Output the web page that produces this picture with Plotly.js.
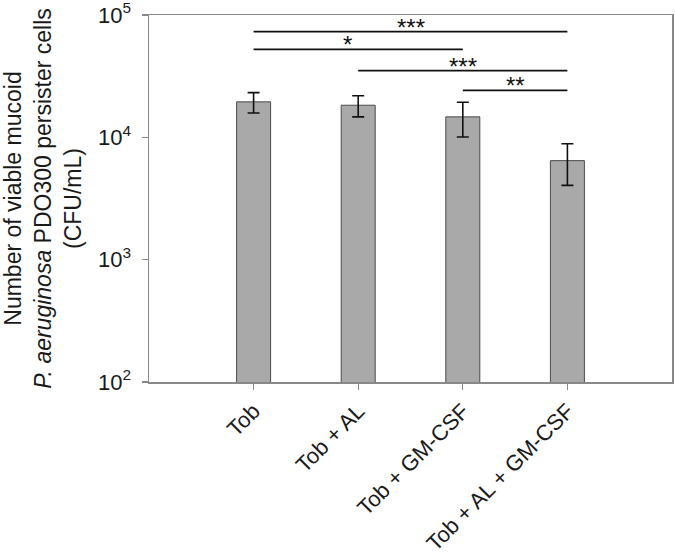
<!DOCTYPE html>
<html>
<head>
<meta charset="utf-8">
<script src="https://cdn.plot.ly/plotly-3.0.1.min.js"></script>
<style>
  html, body { margin: 0; padding: 0; background: #fff; }
  #chart { width: 675px; height: 555px; }
</style>
</head>
<body>
<div id="chart"></div>
<script>
// ---- data ----
var categories = ["Tob", "Tob + AL", "Tob + GM-CSF", "Tob + AL + GM-CSF"];
var cfuValues = [19500, 18300, 14700, 6450];
var cfuErrors = [3700, 3600, 4650, 2400];
var yTickValues = [100, 1000, 10000, 100000];
var yTickLabels = ["10<sup>2</sup>", "10<sup>3</sup>", "10<sup>4</sup>", "10<sup>5</sup>"];
// significance comparisons: category index from/to, label
var compFrom = [0, 0, 1, 2];
var compTo = [3, 2, 3, 3];
var compLabels = ["***", "*", "***", "**"];

// ---- layout helpers (positions / styles) ----
var bracketY = [0.9545, 0.9065, 0.8482, 0.7948];
var labelXOffset = [0, -0.1, 0, 0];
var FONT = "Liberation Sans, Arial, Helvetica, sans-serif";

var trace = {
  type: "bar",
  x: categories,
  y: cfuValues,
  width: 0.325,
  marker: { color: "#a9a9a9", line: { color: "#4a4a4a", width: 1 } },
  error_y: { type: "data", array: cfuErrors, visible: true, color: "#111", thickness: 1.6, width: 6 },
  hoverinfo: "x+y"
};

var shapes = [];
var annotations = [];
for (var i = 0; i < compFrom.length; i++) {
  shapes.push({
    type: "line", xref: "x", yref: "paper",
    x0: compFrom[i], x1: compTo[i], y0: bracketY[i], y1: bracketY[i],
    line: { color: "#111", width: 1.8 }
  });
  annotations.push({
    xref: "x", yref: "paper",
    x: (compFrom[i] + compTo[i]) / 2 + labelXOffset[i], y: bracketY[i],
    xanchor: "center", yanchor: "bottom", yshift: -11,
    text: compLabels[i], showarrow: false,
    font: { family: FONT, size: 24, color: "#111" }
  });
}

var layout = {
  width: 675, height: 555,
  margin: { l: 149, r: 3, t: 15, b: 173 },
  paper_bgcolor: "#fff", plot_bgcolor: "#fff",
  showlegend: false,
  font: { family: FONT, color: "#1a1a1a" },
  bargap: 0.675,
  xaxis: {
    type: "category",
    range: [-1, 4],
    tickangle: -45,
    tickfont: { family: FONT, size: 22, color: "#1a1a1a" },
    ticks: "outside", ticklen: 6, tickcolor: "#888", tickwidth: 1.2,
    showline: true, linecolor: "#888", linewidth: 1.5, mirror: true,
    showgrid: false, zeroline: false
  },
  yaxis: {
    type: "log",
    range: [2, 5],
    tickvals: yTickValues,
    ticktext: yTickLabels,
    ticklabeloverflow: "allow",
    tickfont: { family: FONT, size: 22, color: "#1a1a1a" },
    ticks: "outside", ticklen: 6, tickcolor: "#888", tickwidth: 1.2,
    ticklabelstandoff: 6,
    showline: true, linecolor: "#888", linewidth: 1.5, mirror: true,
    showgrid: false, zeroline: false,
    title: {
      text: "Number of viable mucoid<br><i>P. aeruginosa</i> PDO300 persister cells<br>(CFU/mL)",
      font: { family: FONT, size: 23, color: "#1a1a1a" },
      standoff: 22
    }
  },
  shapes: shapes,
  annotations: annotations
};

Plotly.newPlot("chart", [trace], layout, { displayModeBar: false, staticPlot: true });
</script>
</body>
</html>
